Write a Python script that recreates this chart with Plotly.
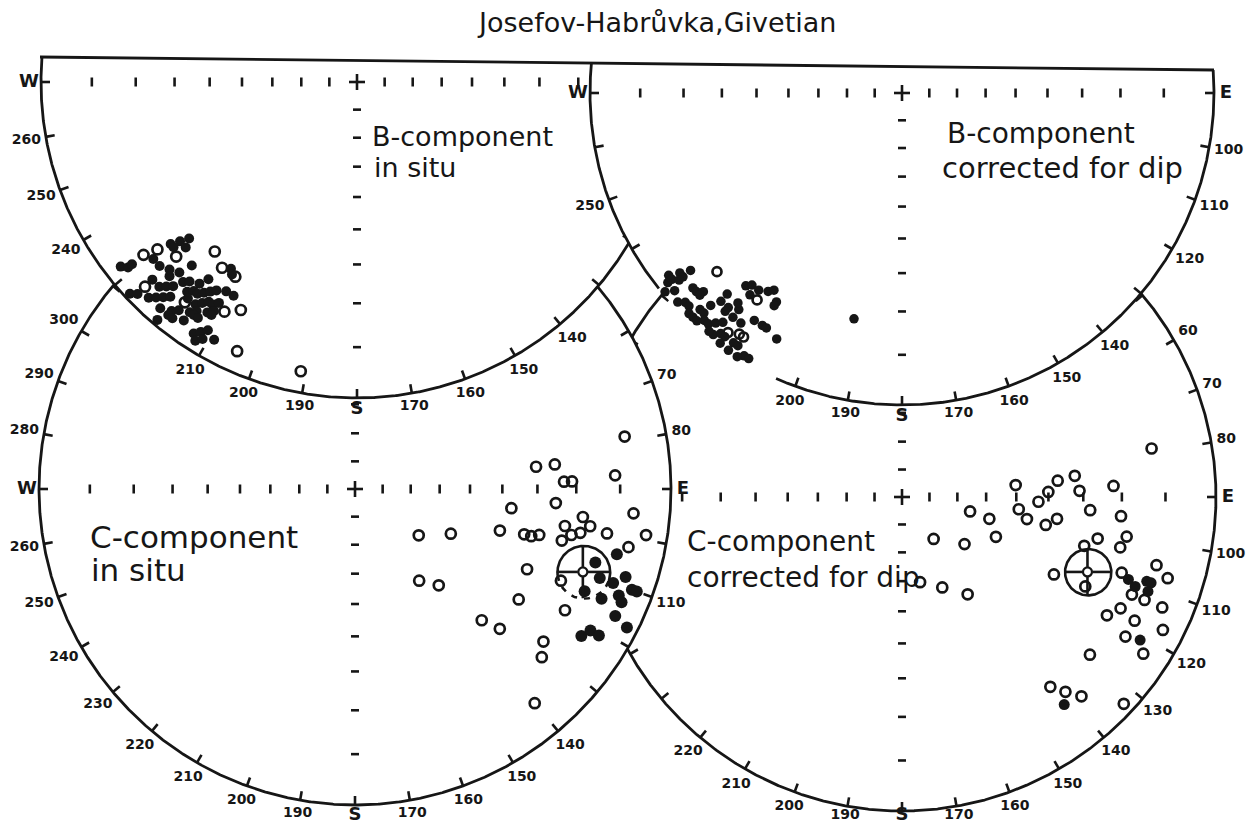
import numpy as np
import plotly.graph_objects as go

# ------------------------------------------------------------------ data
# Palaeomagnetic directions: declination D (deg) and inclination I (deg).
# I < 0 -> upper hemisphere (open symbol), I > 0 -> lower hemisphere (full symbol)

title_text = "Josefov-Habrůvka,Givetian"

# B-component, in situ
b_situ_up_dec = [231, 230, 226, 220, 204, 191, 226, 210, 207, 218, 216, 212]
b_situ_up_inc = [-8, -11, -13, -20, -4, -4, -4, -10, -12, -7, -18, -18]
b_situ_dn_dec = [229, 228, 227, 228, 226, 232, 231, 231, 229, 227, 224, 223, 222, 225, 214, 213,
                 226, 224, 223, 222, 221, 220, 218, 217, 227, 226, 224, 223, 222, 221,
                 219, 218, 217, 216, 215, 214, 212, 210, 218, 216, 215, 214, 213, 212,
                 221, 219, 218, 216, 215, 213, 212, 219, 218, 216, 215, 214, 212, 220,
                 213, 212, 211, 212, 211, 209]
b_situ_dn_inc = [14, 16, 18, 14, 16, 3, 4, 5, 9, 9, 9, 11, 14, 10, 19, 18,
                 6, 6, 7, 8, 10, 11, 12, 14, 1, 2, 3, 4, 5, 6,
                 9, 10, 10, 11, 12, 13, 14, 14, 8, 8, 9, 10, 10, 11,
                 3, 4, 5, 6, 7, 8, 9, 3, 3, 4, 6, 6, 8, 1,
                 3, 4, 5, 2, 3, 4]

# B-component, corrected for dip
b_tilt_up_dec = [226, 215, 216, 214, 213]
b_tilt_up_inc = [-11, -12, -3, -4, -4]
b_tilt_dn_dec = [232, 231, 230, 230, 231, 231, 230, 230, 229, 227, 226, 225, 225,
                 227, 226, 225, 224, 223, 223, 222, 222, 221, 219, 219,
                 222, 221, 220, 219, 218, 217, 217, 218, 219, 218, 216, 217, 214, 213, 211, 211,
                 218, 217, 216, 219, 214, 213, 211, 210, 212, 214, 216,
                 213, 211, 210, 207, 221, 215, 192]
b_tilt_dn_inc = [3, 5, 5, 7, 2, 3, 4, 0.5, 2, 5, 5, 6, 5,
                 1, 2, 2, 1, 1, 3, 3, 5, 7, 7, 6,
                 1, 2, 2, 3, 4, 6, 8, 9, 13, 14, 14, 12, 15, 16, 14, 13,
                 1, 2, 2, 1, 2, 2, 1, 1, 0.2, 0.3, 0.5,
                 8, 8, 8, 7, 9, 6, 17]

# C-component, in situ
c_situ_up_dec = [79, 83, 83, 87, 88, 88, 94, 97, 97, 99, 95, 126, 115, 106, 105, 105, 104,
                 100, 104, 102, 101, 100, 99, 102, 115, 114, 124, 145, 139, 120, 136, 134,
                 129, 132, 140]
c_situ_up_inc = [-8, -30, -25, -11, -23, -21, -25, -37, -18, -16, -7, -62, -53, -39, -32, -30, -28,
                 -22, -22, -20, -18, -12, -4, -7, -28, -19, -26, -51, -46, -15, -30, -25,
                 -15, -13, -7]
c_situ_dn_dec = [104, 107, 110, 114, 114, 110, 108, 110, 110, 112, 113, 116, 117, 123, 121, 121]
c_situ_dn_inc = [9, 13, 11, 13, 9, 8, 6, 4, 3, 6, 5, 5, 2, 9, 8, 6]
c_situ_mean = [110, -15, 6]          # D, I, alpha95

# C-component, corrected for dip
c_tilt_up_dec = [79, 84, 84, 83, 88, 92, 88, 87, 102, 104, 96, 100, 101, 98, 94, 95,
                 143, 127, 113, 102, 100, 105, 103, 117, 116, 109, 105, 107, 168, 156, 146,
                 113, 113, 117, 120, 113, 118, 122, 117, 123, 130, 142, 140, 138, 133]
c_tilt_up_inc = [-12, -50, -37, -32, -40, -43, -31, -22, -65, -58, -49, -46, -40, -37, -28, -20,
                 -71, -62, -54, -25, -18, -28, -19, -33, -24, -17, -10, -7, -59, -55, -49,
                 -13, -10, -14, -16, -6, -10, -10, -4, -5, -14, -15, -12, -9, -2]
c_tilt_dn_dec = [142, 110, 111, 109, 109, 111, 121]
c_tilt_dn_inc = [10, 15, 13, 11, 10, 10, 7]
c_tilt_mean = [112, -25, 6]

# graticule values
inc_ticks = [10, 20, 30, 40, 50, 60, 70, 80]
az_names = {270: "W", 180: "S", 90: "E"}
tl_labels = [270, 260, 250, 240, 210, 200, 190, 180, 170, 160, 150, 140]
tr_labels = [270, 250, 200, 190, 180, 170, 160, 150, 140, 120, 110, 100, 90]
bl_labels = [300, 290, 280, 270, 260, 250, 240, 230, 220, 210, 200, 190, 180, 170, 160,
             150, 140, 110, 90, 80, 70]
br_labels = [60, 70, 80, 90, 100, 110, 120, 130, 140, 150, 160, 170, 180, 190, 200, 210, 220]

tl_text = ["B-component", "in situ"]
tr_text = ["B-component", "corrected for dip"]
bl_text = ["C-component", "in situ"]
br_text = ["C-component", "corrected for dip"]

# ------------------------------------------------------------------ layout geometry
WPX, HPX = 1254, 829
INK = "#161616"
FONT = "DejaVu Sans, Liberation Sans, sans-serif"

NETS = {
    "BR": dict(cx=902, cy=497, R=314, upper=False, gap=None, north=True),
    "BL": dict(cx=355, cy=489, R=316, upper=False, gap=None, north=True),
    "TL": dict(cx=357, cy=82, R=316, upper=True, gap=None, north=False),
    "TR": dict(cx=902, cy=93, R=312, upper=True, gap=(204, 231), north=False),
}
FX0, FY0, FX1, FY1 = 40, 57, 1214, 70   # top frame line
LABEL_YMAX = 815


def frame_y(x):
    return FY0 + (x - FX0) * (FY1 - FY0) / (FX1 - FX0)


def net_xy(net, az, rad):
    a = np.radians(az)
    return net["cx"] + rad * np.sin(a), net["cy"] - rad * np.cos(a)


def stereo_r(net, inc):
    return net["R"] * np.tan(np.radians(90.0 - np.abs(np.asarray(inc, float))) / 2.0)


def project(net, dec, inc):
    return net_xy(net, np.asarray(dec, float), stereo_r(net, inc))


def visible(net, x, y):
    return (not net["upper"]) or (y >= frame_y(x))


fig = go.Figure()


def line_trace(xs, ys, width=2.6, dash=None):
    fig.add_trace(go.Scatter(x=xs, y=ys, mode="lines",
                             line=dict(color=INK, width=width, dash=dash),
                             hoverinfo="skip", showlegend=False))


def seg_lists(segs):
    xs, ys = [], []
    for (x1, y1, x2, y2) in segs:
        xs += [x1, x2, None]
        ys += [y1, y2, None]
    return xs, ys


def draw_net(net, labels):
    cx, cy, R = net["cx"], net["cy"], net["R"]
    az = np.arange(0.0, 360.0, 0.2)
    x, y = net_xy(net, az, R)
    if net["upper"]:
        keep = y >= frame_y(x)
        az, x, y = az[keep], x[keep], y[keep]
        fx, fy = list(x), list(y)
    else:
        fx, fy = list(x) + [x[0]], list(y) + [y[0]]
    # white face hides what lies beneath
    fig.add_trace(go.Scatter(x=fx, y=fy, mode="lines", fill="toself", fillcolor="white",
                             line=dict(width=0, color="white"), hoverinfo="skip",
                             showlegend=False))
    # outline
    ox, oy = [], []
    for a, xx, yy in zip(list(az) + ([az[0]] if not net["upper"] else []), fx, fy):
        if net["gap"] and net["gap"][0] <= a <= net["gap"][1]:
            ox.append(None); oy.append(None)
        else:
            ox.append(xx); oy.append(yy)
    line_trace(ox, oy, width=2.8)
    # ticks
    segs = []
    for a in range(0, 360, 10):
        x1, y1 = net_xy(net, a, R)
        if not visible(net, x1, y1):
            continue
        if net["gap"] and net["gap"][0] <= a <= net["gap"][1]:
            continue
        x2, y2 = net_xy(net, a, R - 9)
        segs.append((x1, y1, x2, y2))
    for s in (-1, 1):
        for inc in inc_ticks:
            r = stereo_r(net, inc)
            segs.append((cx + s * r, cy - 4.5, cx + s * r, cy + 4.5))
    dirs = (1, -1) if net["north"] else (1,)
    for d in dirs:
        for inc in inc_ticks:
            r = stereo_r(net, inc)
            segs.append((cx - 4, cy + d * r, cx + 4, cy + d * r))
    segs.append((cx - 8, cy, cx + 8, cy))
    segs.append((cx, cy - 8, cx, cy + 8))
    sx, sy = seg_lists(segs)
    line_trace(sx, sy, width=2.6)
    # azimuth labels
    lx, ly, lt, ls = [], [], [], []
    for a in labels:
        txt = az_names.get(a, str(a))
        big = txt in ("W", "S", "E")
        hw = 7 if big else 4.6 * len(txt)
        hh = 6 if big else 6.5
        dx, dy = np.sin(np.radians(a)), -np.cos(np.radians(a))
        off = 5 + abs(dx) * hw + abs(dy) * hh
        px, py = net_xy(net, a, R + off)
        lx.append(px); ly.append(min(py, LABEL_YMAX)); lt.append(txt)
        ls.append(18 if big else 14)
    fig.add_trace(go.Scatter(x=lx, y=ly, mode="text", text=lt,
                             textfont=dict(family=FONT, size=ls, color=INK, weight="bold"),
                             hoverinfo="skip", showlegend=False))


def draw_points(net, dec, inc, filled, size):
    x, y = project(net, dec, inc)
    if filled:
        marker = dict(symbol="circle", size=size, color=INK, line=dict(width=0))
    else:
        marker = dict(symbol="circle-open", size=size, color=INK, line=dict(width=2.7, color=INK))
    fig.add_trace(go.Scatter(x=x, y=y, mode="markers", marker=marker,
                             hoverinfo="skip", showlegend=False))


def small_circle(dec, inc, a95, n=181):
    D, I, A = np.radians(dec), np.radians(inc), np.radians(a95)
    m = np.array([np.cos(I) * np.cos(D), np.cos(I) * np.sin(D), np.sin(I)])
    u = np.array([-np.sin(I) * np.cos(D), -np.sin(I) * np.sin(D), np.cos(I)])
    v = np.array([-np.sin(D), np.cos(D), 0.0])
    t = np.linspace(0, 2 * np.pi, n)
    p = (np.cos(A) * m[:, None] + np.sin(A) * (np.cos(t) * u[:, None] + np.sin(t) * v[:, None]))
    return np.degrees(np.arctan2(p[1], p[0])), np.degrees(np.arcsin(p[2]))


def draw_mean(net, mean, dashed_lower):
    d, i, a95 = mean
    mx, my = project(net, [d], [i])
    mx, my = float(mx[0]), float(my[0])
    cd, ci = small_circle(d, i, a95)
    x, y = project(net, cd, ci)
    rad = float(np.mean(np.hypot(x - mx, y - my)))
    if dashed_lower:
        low = y > my + 0.35 * rad
        xs = [None if l else v for v, l in zip(x, low)]
        ys = [None if l else v for v, l in zip(y, low)]
        line_trace(xs, ys, width=2.6)
        xd = [v if l else None for v, l in zip(x, low)]
        yd = [v if l else None for v, l in zip(y, low)]
        line_trace(xd, yd, width=2.6, dash="6px,7px")
    else:
        line_trace(list(x), list(y), width=2.6)
    segs = [(mx - rad, my, mx - 5, my), (mx + 5, my, mx + rad, my),
            (mx, my - rad, mx, my - 5), (mx, my + 5, mx, my + rad)]
    sx, sy = seg_lists(segs)
    line_trace(sx, sy, width=2.6)
    fig.add_trace(go.Scatter(x=[mx], y=[my], mode="markers",
                             marker=dict(symbol="circle-open", size=9, color=INK,
                                         line=dict(width=2.2, color=INK)),
                             hoverinfo="skip", showlegend=False))


# draw from bottom layer to top layer
n = NETS["BR"]
draw_net(n, br_labels)
draw_points(n, c_tilt_up_dec, c_tilt_up_inc, False, 10)
draw_points(n, c_tilt_dn_dec, c_tilt_dn_inc, True, 11)
draw_mean(n, c_tilt_mean, False)

n = NETS["BL"]
draw_net(n, bl_labels)
draw_points(n, c_situ_up_dec, c_situ_up_inc, False, 10)
draw_points(n, c_situ_dn_dec, c_situ_dn_inc, True, 12)
draw_mean(n, c_situ_mean, True)

n = NETS["TL"]
draw_net(n, tl_labels)
draw_points(n, b_situ_dn_dec, b_situ_dn_inc, True, 10)
draw_points(n, b_situ_up_dec, b_situ_up_inc, False, 10)

n = NETS["TR"]
draw_net(n, tr_labels)
draw_points(n, b_tilt_dn_dec, b_tilt_dn_inc, True, 9.5)
draw_points(n, b_tilt_up_dec, b_tilt_up_inc, False, 9)

# top frame line
line_trace([FX0, FX1], [FY0, FY1], width=2.8)

ann = [dict(x=656, y=22, text=title_text, font=dict(size=27)),
       dict(x=370, y=136, text=tl_text[0], font=dict(size=27), xanchor="left"),
       dict(x=372, y=167, text=tl_text[1], font=dict(size=27), xanchor="left"),
       dict(x=945, y=133, text=tr_text[0], font=dict(size=28), xanchor="left"),
       dict(x=940, y=168, text=tr_text[1], font=dict(size=29), xanchor="left"),
       dict(x=88, y=537, text=bl_text[0], font=dict(size=31), xanchor="left"),
       dict(x=89, y=570, text=bl_text[1], font=dict(size=31), xanchor="left"),
       dict(x=685, y=541, text=br_text[0], font=dict(size=28), xanchor="left"),
       dict(x=685, y=577, text=br_text[1], font=dict(size=28), xanchor="left")]
annotations = []
for a in ann:
    f = dict(family=FONT, color=INK)
    f.update(a.pop("font"))
    annotations.append(dict(xref="x", yref="y", showarrow=False, yanchor="middle",
                            xanchor=a.pop("xanchor", "center"), font=f, **a))

fig.update_layout(
    width=WPX, height=HPX, margin=dict(l=0, r=0, t=0, b=0),
    paper_bgcolor="white", plot_bgcolor="white",
    xaxis=dict(range=[0, WPX], visible=False, fixedrange=True),
    yaxis=dict(range=[HPX, 0], visible=False, fixedrange=True),
    annotations=annotations, showlegend=False,
)

fig.write_html("out.html")
